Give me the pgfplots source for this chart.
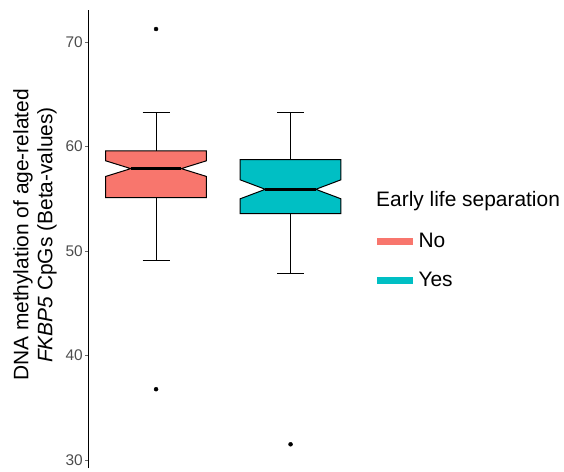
\documentclass[border=0pt]{standalone}
\usepackage{fontspec}
\setmainfont{Liberation Sans}
\usepackage{pgfplots}
\pgfplotsset{compat=1.18}
\definecolor{nocol}{HTML}{F8766D}
\definecolor{yescol}{HTML}{00BFC4}
\definecolor{ticktext}{HTML}{4D4D4D}
\begin{document}
\begin{tikzpicture}
\path[use as bounding box] (0,0) rectangle (564bp,472bp);
\begin{axis}[
  at={(88bp,4bp)}, anchor=south west, scale only axis,
  width=269.8bp, height=458bp,
  xmin=0.494, xmax=2.5, ymin=29.23, ymax=73.06,
  axis x line=none, axis y line*=left,
  axis line style={black, line width=0.8bp},
  ytick={30,40,50,60,70}, xtick=\empty,
  tick align=outside, major tick length=3bp,
  tick style={black!60, line width=0.6bp},
  /pgf/number format/assume math mode=true,
  yticklabel style={font=\fontsize{15.5}{18}\selectfont, text=ticktext, inner sep=2bp},
  legend style={draw=none, fill=none, inner sep=0pt, at={(1.071,0.515)}, anchor=north west,
    font=\fontsize{21}{25}\selectfont, row sep=21bp, nodes={inner sep=1bp},
    /tikz/every odd column/.style={column sep=5bp}},
  legend cell align=left,
]
% No box (notched)
\addplot[fill=nocol, draw=black, line width=1bp, forget plot] coordinates {
 (0.625,55.10) (1.375,55.10) (1.375,57.13) (1.1875,57.88) (1.375,58.63)
 (1.375,59.57) (0.625,59.57) (0.625,58.63) (0.8125,57.88) (0.625,57.13)} --cycle;
\addplot[black, line width=0.8bp, forget plot] coordinates {(1,59.57) (1,63.27)};
\addplot[black, line width=0.8bp, forget plot] coordinates {(0.9,63.27) (1.1,63.27)};
\addplot[black, line width=0.8bp, forget plot] coordinates {(1,55.10) (1,49.11)};
\addplot[black, line width=0.8bp, forget plot] coordinates {(0.9,49.11) (1.1,49.11)};
\addplot[black, line width=2.6bp, forget plot] coordinates {(0.8125,57.88) (1.1875,57.88)};
% Yes box (notched)
\addplot[fill=yescol, draw=black, line width=1bp, forget plot] coordinates {
 (1.625,53.57) (2.375,53.57) (2.375,54.99) (2.1875,55.90) (2.375,56.81)
 (2.375,58.74) (1.625,58.74) (1.625,56.81) (1.8125,55.90) (1.625,54.99)} --cycle;
\addplot[black, line width=0.8bp, forget plot] coordinates {(2,58.74) (2,63.27)};
\addplot[black, line width=0.8bp, forget plot] coordinates {(1.9,63.27) (2.1,63.27)};
\addplot[black, line width=0.8bp, forget plot] coordinates {(2,53.57) (2,47.89)};
\addplot[black, line width=0.8bp, forget plot] coordinates {(1.9,47.89) (2.1,47.89)};
\addplot[black, line width=2.6bp, forget plot] coordinates {(1.8125,55.90) (2.1875,55.90)};
% outliers
\addplot[only marks, mark=*, mark size=2bp, black, forget plot] coordinates {(1,71.24) (1,36.77) (2,31.50)};
% legend
\addlegendimage{legend image code/.code={\fill[nocol] (0bp,-3bp) rectangle (35bp,3bp);}}
\addlegendentry{No}
\addlegendimage{legend image code/.code={\fill[yescol] (0bp,-3bp) rectangle (35bp,3bp);}}
\addlegendentry{Yes}
\end{axis}
\node[anchor=west, inner sep=0pt, font=\fontsize{21}{25}\selectfont] at (376bp,271bp) {Early life separation};
\node[rotate=90, align=center, inner sep=0pt, font=\fontsize{21}{24}\selectfont] at (35bp,237bp)
  {DNA methylation of age-related\\\textit{FKBP5} CpGs (Beta-values)};
\end{tikzpicture}
\end{document}
